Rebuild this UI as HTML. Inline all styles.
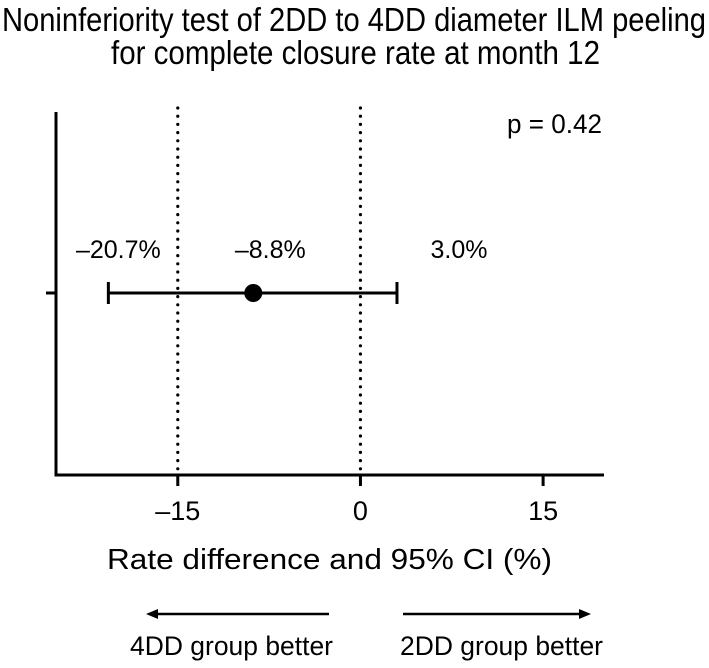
<!DOCTYPE html>
<html><head><meta charset="utf-8"><style>
html,body{margin:0;padding:0;background:#fff;}
svg text{font-family:"Liberation Sans",sans-serif;fill:#000;}
</style></head><body>
<svg id="chart" width="709" height="663" viewBox="0 0 709 663" xmlns="http://www.w3.org/2000/svg">
<text x="2" y="31" font-size="33" textLength="704" lengthAdjust="spacingAndGlyphs">Noninferiority test of 2DD to 4DD diameter ILM peeling</text>
<text x="111" y="64" font-size="33" textLength="489" lengthAdjust="spacingAndGlyphs">for complete closure rate at month 12</text>
<text x="507" y="133" font-size="27" textLength="95" lengthAdjust="spacingAndGlyphs">p = 0.42</text>
<g id="plot"></g>
<text x="107" y="569" font-size="29" textLength="445" lengthAdjust="spacingAndGlyphs">Rate difference and 95% CI (%)</text>
<line x1="156" y1="614" x2="329" y2="614" stroke="#000" stroke-width="2.5"/>
<polygon points="146,614 158,609 158,619" fill="#000"/>
<line x1="403" y1="614" x2="580" y2="614" stroke="#000" stroke-width="2.5"/>
<polygon points="591,614 579,609 579,619" fill="#000"/>
<text x="130" y="655" font-size="27" textLength="203" lengthAdjust="spacingAndGlyphs">4DD group better</text>
<text x="400" y="655" font-size="27" textLength="203" lengthAdjust="spacingAndGlyphs">2DD group better</text>
</svg>
<script>
const xTicks = [-15, 0, 15];
const tickLabels = ["\u201315", "0", "15"];
const refLines = [-15, 0];
const estimate = [-8.8];
const ciLower = [-20.7];
const ciUpper = [3.0];
const valueLabels = ["\u201320.7%", "\u20138.8%", "3.0%"];

const X0 = 56, X1 = 604, DMIN = -25, DMAX = 20;
const xs = v => X0 + (v - DMIN) / (DMAX - DMIN) * (X1 - X0);
const YTOP = 112, YAX = 475, ROW = 293;
const NS = "http://www.w3.org/2000/svg";
const g = document.getElementById('plot');
function mk(tag, attrs){const e=document.createElementNS(NS,tag);for(const k in attrs)e.setAttribute(k,attrs[k]);g.appendChild(e);return e;}

refLines.forEach(v=>{
  const l=mk('line',{x1:xs(v),x2:xs(v),y1:108,y2:YAX,stroke:'#000','stroke-width':3.2,'stroke-dasharray':'0 8.2','stroke-linecap':'round'});
  
  
});
let a=mk('line',{x1:X0,x2:X0,y1:YTOP,y2:YAX+1.5,stroke:'#000','stroke-width':3});


a=mk('line',{x1:X0-1.5,x2:X1,y1:YAX,y2:YAX,stroke:'#000','stroke-width':3});


a=mk('line',{x1:46,x2:X0,y1:ROW,y2:ROW,stroke:'#000','stroke-width':3});


xTicks.forEach((v,i)=>{
  const t=mk('line',{x1:xs(v),x2:xs(v),y1:YAX,y2:486,stroke:'#000','stroke-width':3});
  
  
  const tx=mk('text',{x:xs(v),y:520,'font-size':27,'text-anchor':'middle'});
  tx.textContent=tickLabels[i];
  
  
});
estimate.forEach((v,i)=>{
  const lo=xs(ciLower[i]), hi=xs(ciUpper[i]);
  let e=mk('line',{x1:lo,x2:hi,y1:ROW,y2:ROW,stroke:'#000','stroke-width':3});
  
  
  e=mk('line',{x1:lo,x2:lo,y1:282,y2:304,stroke:'#000','stroke-width':3});
  
  
  e=mk('line',{x1:hi,x2:hi,y1:282,y2:304,stroke:'#000','stroke-width':3});
  
  
  e=mk('circle',{cx:xs(v),cy:ROW,r:9,fill:'#000'});
  
  
  const vals=[ciLower[i], v, ciUpper[i]];
  const offs=[10, 17, 62];
  vals.forEach((val,j)=>{
    const t=mk('text',{x:xs(val)+offs[j],y:258,'font-size':25,'text-anchor':'middle'});
    t.textContent=valueLabels[j];
    
    
  });
});
</script>
</body></html>
